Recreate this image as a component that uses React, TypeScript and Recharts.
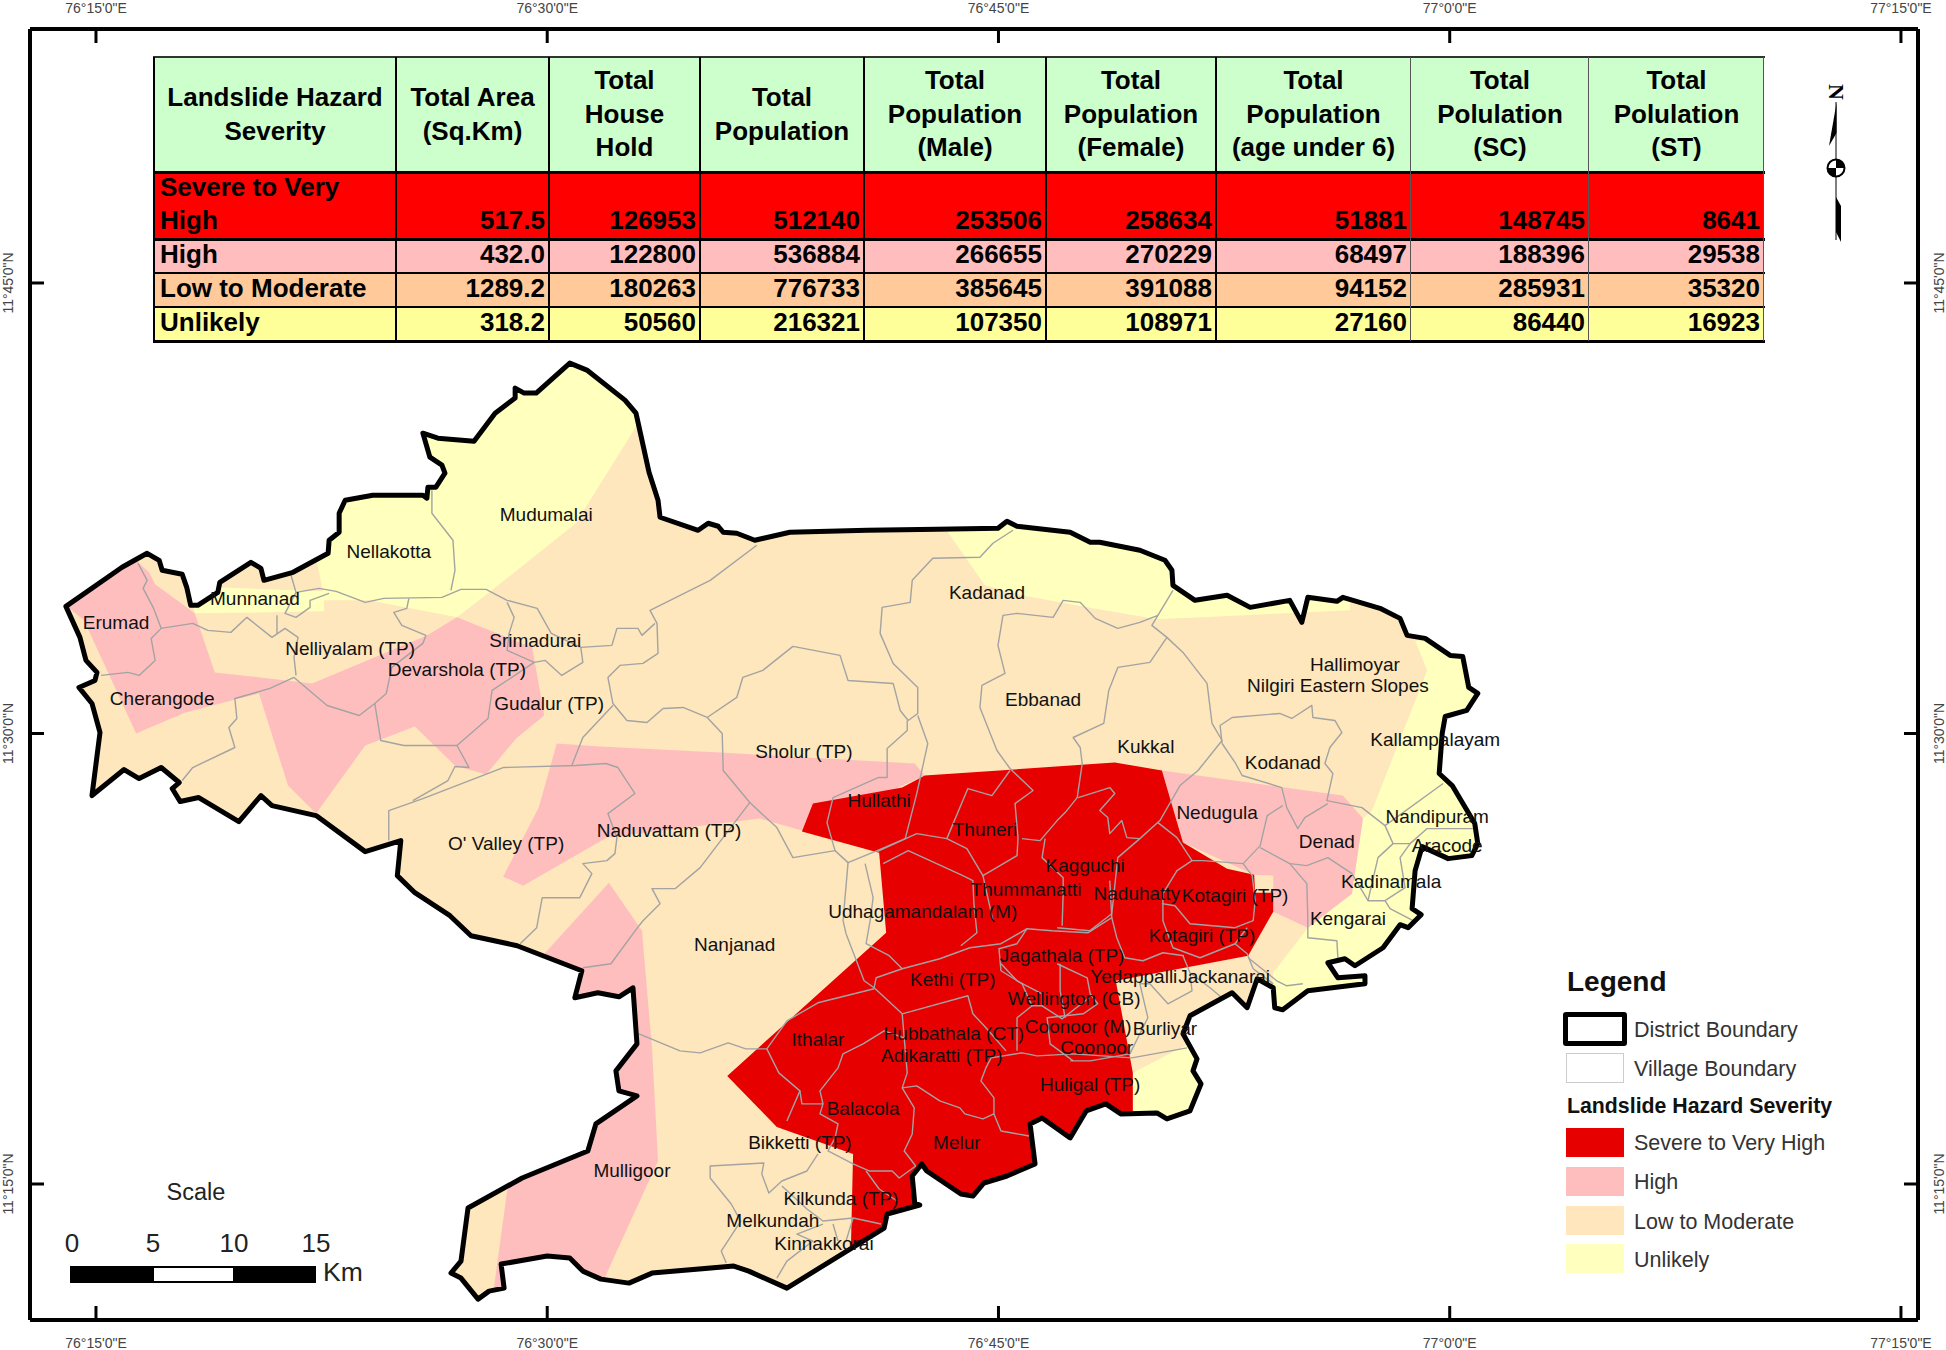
import { ScatterChart, Scatter, XAxis, YAxis } from 'recharts';

// all map coordinates are arc-seconds: x east of 76°E, y north of 11°N
type Pt = [number, number];

const lonTicks = [900, 1800, 2700, 3600, 4500];
const latTicks = [900, 1800, 2700];
const lonDomain = [768.4, 4534];
const latDomain = [628.3, 3207.4];

const districtOutline: Pt[] = [
  [840, 2054], [952, 2132], [1002, 2160], [1026, 2146], [1032, 2126], [1072, 2118], [1081, 2092], [1089, 2056], [1103, 2056], [1143, 2082], [1147, 2102], [1209, 2142], [1229, 2130], [1235, 2106], [1293, 2122], [1363, 2160], [1365, 2186], [1385, 2202], [1385, 2240], [1397, 2266], [1452, 2276], [1552, 2276], [1560, 2270], [1562, 2292], [1578, 2292], [1596, 2320], [1590, 2336], [1566, 2352], [1552, 2400], [1582, 2390], [1654, 2384], [1696, 2440], [1736, 2470], [1736, 2490], [1754, 2480], [1778, 2480], [1845, 2540], [1879, 2526], [1955, 2466], [1977, 2440], [1981, 2422], [2003, 2322], [2021, 2266], [2025, 2232], [2101, 2206], [2121, 2220], [2141, 2214], [2151, 2202], [2178, 2200], [2214, 2186], [2284, 2202], [2438, 2206], [2577, 2208], [2699, 2210], [2717, 2224], [2737, 2214], [2843, 2202], [2883, 2182], [2902, 2182], [2982, 2166], [3032, 2146], [3046, 2126], [3048, 2096], [3092, 2066], [3156, 2076], [3202, 2052], [3281, 2066], [3305, 2022], [3317, 2072], [3375, 2064], [3387, 2072], [3461, 2050], [3501, 2030], [3515, 1996], [3551, 1990], [3601, 1956], [3626, 1954], [3638, 1892], [3656, 1880], [3634, 1846], [3591, 1834], [3585, 1800], [3579, 1720], [3605, 1696], [3650, 1620], [3656, 1580], [3644, 1556], [3597, 1550], [3545, 1574], [3531, 1526], [3525, 1450], [3543, 1438], [3517, 1412], [3501, 1418], [3467, 1372], [3411, 1336], [3391, 1350], [3357, 1342], [3377, 1312], [3431, 1316], [3431, 1300], [3317, 1286], [3267, 1248], [3251, 1252], [3248, 1292], [3216, 1310], [3196, 1252], [3166, 1282], [3082, 1236], [3068, 1200], [3096, 1150], [3088, 1126], [3104, 1100], [3082, 1046], [3036, 1030], [3016, 1042], [2944, 1040], [2914, 1060], [2875, 1046], [2843, 992], [2787, 1032], [2763, 1020], [2773, 940], [2717, 916], [2671, 902], [2649, 876], [2625, 880], [2557, 926], [2547, 940], [2528, 916], [2533, 862], [2543, 858], [2478, 840], [2472, 812], [2278, 692], [2202, 726], [2172, 736], [2009, 722], [1963, 702], [1907, 710], [1871, 726], [1845, 752], [1800, 756], [1708, 740], [1714, 692], [1684, 686], [1662, 670], [1628, 712], [1608, 722], [1628, 746], [1642, 852], [1750, 912], [1881, 966], [1897, 1020], [1979, 1076], [1943, 1086], [1937, 1126], [1979, 1180], [1971, 1292], [1943, 1274], [1901, 1282], [1855, 1272], [1869, 1326], [1740, 1376], [1648, 1396], [1606, 1436], [1536, 1482], [1501, 1516], [1508, 1586], [1437, 1564], [1339, 1636], [1251, 1656], [1229, 1676], [1185, 1624], [1105, 1672], [1068, 1664], [1052, 1690], [1066, 1702], [1030, 1732], [986, 1710], [956, 1728], [892, 1676], [908, 1802], [892, 1860], [866, 1892], [898, 1906], [902, 1922], [880, 1946], [868, 1992],
];

const unlikelyZones: Pt[][] = [
  [[1327, 2306], [1341, 2140], [1353, 2084], [1147, 2092], [1087, 2092], [1097, 2040], [1355, 2044], [1355, 2066], [1444, 2066], [1620, 2032], [1682, 2080], [1857, 2220], [1985, 2426], [2105, 2666], [1327, 2666]],
  [[2593, 2226], [2599, 2202], [2673, 2096], [2757, 2074], [2877, 2052], [3016, 2028], [3401, 2046], [3401, 2086], [2902, 2266]],
  [[3531, 1986], [3555, 1926], [3445, 1646], [3427, 1630], [3411, 1526], [3405, 1480], [3317, 1412], [3248, 1322], [3242, 1246], [3700, 1246], [3700, 1986]],
  [[2968, 1122], [3092, 1186], [3182, 1186], [3182, 1006], [2968, 1006]],
];

const highZones: Pt[][] = [
  [[828, 2066], [968, 2176], [986, 2140], [1006, 2122], [1018, 2098], [1097, 2040], [1137, 1922], [1331, 1900], [1560, 1996], [1620, 2032], [1770, 1972], [1794, 1836], [1738, 1790], [1678, 1718], [1616, 1736], [1536, 1814], [1437, 1776], [1339, 1640], [1283, 1696], [1225, 1880], [1078, 1842], [980, 1800], [876, 2026]],
  [[1819, 1780], [1783, 1652], [1712, 1514], [1752, 1496], [1919, 1592], [2224, 1630], [2308, 1606], [2553, 1716], [2533, 1740], [2145, 1762], [1905, 1774]],
  [[1923, 1502], [1989, 1406], [2009, 1172], [2021, 946], [1907, 696], [1690, 666], [1720, 886], [1796, 1362]],
  [[3026, 1726], [3387, 1676], [3427, 1630], [3405, 1480], [3317, 1412], [3248, 1444], [3248, 1516], [3210, 1518], [3068, 1582]],
];

const severeZones: Pt[][] = [
  [[2330, 1660], [2508, 1692], [2553, 1716], [2902, 1740], [2932, 1742], [3026, 1726], [3068, 1582], [3156, 1530], [3210, 1518], [3212, 1482], [3248, 1482], [3248, 1444], [3198, 1356], [2934, 1306], [2968, 1122], [2968, 726], [2394, 726], [2406, 786], [2410, 960], [2258, 1014], [2159, 1116], [2476, 1402], [2462, 1562], [2308, 1604]],
];

const villageLines: Pt[][] = [
  [[984, 2140], [1002, 2106], [994, 2090], [1014, 2052], [1030, 2010], [1010, 1990], [1018, 1946], [986, 1916], [964, 1922], [910, 1916]],
  [[1030, 2010], [1093, 2020], [1123, 2006], [1169, 2002], [1201, 2032], [1251, 1992], [1277, 2010], [1303, 1992], [1295, 1952], [1299, 1916]],
  [[1289, 2116], [1299, 2082], [1345, 2090], [1379, 2084], [1437, 2062], [1474, 2070], [1590, 2072], [1628, 2088], [1678, 2088], [1720, 2066], [1780, 2050], [1808, 2000], [1867, 1972], [1871, 1942], [1829, 1916], [1796, 1946], [1774, 1942]],
  [[1299, 2082], [1277, 2040], [1299, 2032], [1327, 2052], [1327, 2066], [1365, 2080]],
  [[1261, 2036], [1261, 2000]],
  [[1524, 2070], [1520, 2050], [1494, 2042], [1510, 2016], [1558, 1996], [1552, 1980], [1490, 1932], [1479, 1880], [1456, 1860], [1425, 1836], [1361, 1856], [1295, 1912], [1247, 1890], [1177, 1870], [1181, 1830], [1165, 1812], [1177, 1772], [1093, 1732], [1072, 1706]],
  [[1456, 1860], [1468, 1786], [1514, 1776], [1620, 1776], [1644, 1732], [1616, 1734], [1602, 1706], [1532, 1666]],
  [[1620, 1776], [1682, 1830], [1690, 1886], [1774, 1942], [1720, 1966], [1724, 2000], [1734, 2032], [1720, 2062]],
  [[1570, 2286], [1570, 2240], [1612, 2186], [1616, 2126], [1608, 2086]],
  [[1484, 1586], [1484, 1646], [1552, 1670], [1712, 1732], [1857, 1736], [1917, 1740], [1941, 1732], [1975, 1680], [1921, 1640], [1939, 1592], [1935, 1560], [1919, 1546], [1871, 1540], [1889, 1520], [1865, 1472], [1790, 1472], [1779, 1412], [1746, 1380]],
  [[1871, 1332], [1927, 1340], [1983, 1416], [1991, 1426], [2025, 1460], [2009, 1490], [2055, 1490], [2105, 1532], [2204, 1662], [2151, 1726], [2149, 1800], [2119, 1832]],
  [[2119, 1832], [2178, 1872], [2190, 1912], [2230, 1926], [2290, 1974], [2384, 1956], [2400, 1906], [2490, 1900], [2504, 1846], [2520, 1826], [2539, 1840], [2539, 1892], [2490, 1940], [2464, 2000], [2468, 2052], [2524, 2062], [2528, 2106], [2569, 2150], [2663, 2152], [2689, 2180], [2729, 2206]],
  [[2119, 1832], [2071, 1852], [2031, 1850], [1999, 1822], [1959, 1826], [1931, 1860], [1921, 1912], [1945, 1936], [1991, 1940], [2021, 1960], [2019, 2020], [2005, 2046], [2125, 2106], [2218, 2176]],
  [[2015, 2020], [1989, 1996], [1981, 2010], [1939, 2010], [1929, 1976], [1867, 1972]],
  [[1931, 1856], [1871, 1792], [1849, 1736]],
  [[2518, 1826], [2518, 1806], [2478, 1770], [2478, 1712], [2460, 1712], [2370, 1672], [2358, 1622], [2374, 1566], [2290, 1552], [2258, 1612], [2204, 1662]],
  [[2539, 1836], [2559, 1780], [2537, 1680], [2514, 1590], [2458, 1566], [2400, 1542], [2374, 1566]],
  [[2458, 1564], [2537, 1600], [2597, 1590], [2637, 1570], [2669, 1516], [2737, 1556], [2739, 1592], [2733, 1660], [2769, 1686], [2723, 1730], [2697, 1766], [2663, 1852], [2667, 1896], [2713, 1920], [2699, 1976], [2709, 2036], [2737, 2040], [2809, 2032], [2829, 2066], [2863, 2062], [2893, 2030], [2938, 2010], [2982, 2022], [3018, 2036], [3006, 2016], [3036, 1992]],
  [[3018, 2036], [3048, 2086]],
  [[2597, 1590], [2639, 1690], [2687, 1676], [2723, 1726]],
  [[2400, 1542], [2390, 1426], [2396, 1400], [2432, 1306], [2452, 1292], [2508, 1240], [2639, 1276], [2649, 1240], [2675, 1212], [2715, 1166]],
  [[2434, 1540], [2450, 1472], [2444, 1426], [2436, 1380], [2482, 1356], [2508, 1330], [2456, 1312], [2452, 1292]],
  [[2470, 1540], [2520, 1566], [2629, 1516], [2649, 1506], [2651, 1460], [2657, 1402], [2625, 1376]],
  [[2508, 1330], [2583, 1350], [2643, 1372], [2705, 1380], [2757, 1410], [2807, 1406], [2879, 1402], [2926, 1432], [2922, 1506]],
  [[2669, 1516], [2689, 1426]],
  [[2747, 1590], [2783, 1586], [2817, 1626], [2833, 1642], [2857, 1672], [2867, 1740], [2863, 1772], [2849, 1792], [2910, 1820], [2920, 1886], [2938, 1932], [3002, 1942], [3036, 1992], [3068, 1962], [3116, 1900], [3126, 1820], [3146, 1786], [3098, 1726], [3062, 1696], [3022, 1626], [2982, 1590], [2938, 1552], [2926, 1440], [2882, 1406], [2817, 1412]],
  [[2793, 1590], [2787, 1552], [2829, 1512], [2829, 1480], [2827, 1416]],
  [[2859, 1672], [2922, 1692], [2932, 1680], [2902, 1646], [2918, 1632], [2922, 1600], [2946, 1626], [2956, 1592], [2982, 1590]],
  [[3018, 1622], [3056, 1592], [3086, 1546], [3056, 1526], [3028, 1480], [3028, 1426], [3048, 1372], [3102, 1352], [3172, 1380], [3196, 1360], [3208, 1330], [3248, 1300]],
  [[3026, 1460], [3052, 1456], [3082, 1420], [3172, 1412], [3208, 1426], [3212, 1466], [3206, 1516], [3188, 1540], [3108, 1546], [3086, 1546]],
  [[3172, 1380], [3196, 1412]],
  [[3146, 1780], [3142, 1816], [3166, 1832], [3261, 1840], [3285, 1830], [3325, 1856], [3327, 1832], [3371, 1826], [3385, 1802], [3361, 1772], [3351, 1740], [3367, 1720], [3355, 1666], [3425, 1652], [3471, 1616]],
  [[3146, 1780], [3172, 1742], [3186, 1716], [3265, 1692], [3275, 1652], [3297, 1610], [3311, 1632], [3357, 1660]],
  [[3267, 1656], [3236, 1636], [3222, 1576], [3188, 1540]],
  [[3222, 1572], [3281, 1540], [3315, 1500], [3317, 1432], [3317, 1392], [3375, 1386], [3377, 1350]],
  [[3281, 1540], [3315, 1536], [3357, 1552], [3405, 1520], [3437, 1466], [3471, 1466], [3481, 1450], [3527, 1426]],
  [[3471, 1616], [3487, 1580], [3457, 1552], [3437, 1466]],
  [[3487, 1580], [3521, 1580], [3555, 1610], [3646, 1610]],
  [[3471, 1616], [3587, 1700]],
  [[3521, 1580], [3501, 1552], [3511, 1492], [3471, 1466]],
  [[3198, 1352], [3255, 1306], [3275, 1296], [3307, 1300]],
  [[3068, 1356], [3082, 1322], [3086, 1286], [3038, 1260], [3002, 1300], [2982, 1300], [2998, 1232], [2962, 1160], [2883, 1146], [2843, 1146]],
  [[3082, 1322], [3122, 1292], [3148, 1270]],
  [[3076, 1172], [2966, 1152], [2849, 1160], [2777, 1156], [2747, 1162], [2685, 1152], [2675, 1132], [2665, 1106], [2691, 1072], [2691, 1040], [2705, 1006], [2761, 996]],
  [[2817, 1340], [2877, 1312], [2883, 1280], [2898, 1260], [2869, 1240], [2797, 1232], [2803, 1180], [2849, 1146]],
  [[2823, 1340], [2823, 1286], [2833, 1232]],
  [[2757, 1410], [2737, 1380], [2701, 1370], [2705, 1326], [2747, 1300], [2767, 1256], [2737, 1232], [2737, 1166]],
  [[2767, 1256], [2787, 1256], [2827, 1230], [2881, 1272]],
  [[2926, 1432], [2936, 1392], [2952, 1352], [2988, 1346], [3028, 1362], [3070, 1356]],
  [[2452, 1290], [2340, 1262], [2278, 1226], [2238, 1170], [2196, 1170], [2161, 1182], [2105, 1162], [2065, 1166], [1983, 1200]],
  [[2238, 1170], [2262, 1122], [2304, 1086], [2278, 1026]],
  [[2304, 1086], [2308, 1060], [2350, 1060], [2344, 1040], [2380, 1020], [2374, 992], [2360, 966], [2410, 940], [2442, 926], [2488, 926], [2502, 912], [2535, 936]],
  [[2350, 1060], [2344, 1086], [2380, 1132], [2390, 1160], [2430, 1180], [2472, 1206], [2512, 1192]],
  [[2508, 1240], [2512, 1192], [2518, 1122], [2508, 1092], [2532, 1052], [2528, 1000], [2512, 966], [2535, 936]],
  [[2508, 1092], [2537, 1096], [2583, 1066], [2623, 1052], [2633, 1040], [2669, 1030], [2691, 1040]],
  [[2340, 960], [2318, 926], [2268, 906], [2242, 882], [2228, 920], [2232, 942], [2125, 936], [2125, 912], [2167, 860], [2186, 826], [2147, 766], [2157, 742]],
  [[2268, 896], [2318, 850], [2350, 826], [2410, 832], [2466, 820]],
  [[2436, 926], [2462, 890], [2498, 866]],
  [[2350, 820], [2298, 800], [2330, 786], [2278, 746], [2258, 712]],
  [[2370, 820], [2380, 786]],
  [[2410, 832], [2396, 786]],
  [[2705, 1340], [2737, 1306], [2787, 1280], [2787, 1256]],
];

const placeNames = ['Mudumalai', 'Nellakotta', 'Munnanad', 'Erumad', 'Nelliyalam (TP)', 'Srimadurai', 'Devarshola (TP)', 'Gudalur (TP)', 'Cherangode', "O' Valley (TP)", 'Naduvattam (TP)', 'Sholur (TP)', 'Kadanad', 'Ebbanad', 'Hullathi', 'Thuneri', 'Thummanatti', 'Udhagamandalam (M)', 'Kagguchi', 'Naduhatty', 'Kotagiri (TP)', 'Kotagiri (TP)', 'Jagathala (TP)', 'Yedappalli', 'Jackanarai', 'Wellington (CB)', 'Kethi (TP)', 'Hubbathala (CT)', 'Adikaratti (TP)', 'Coonoor (M)', 'Coonoor', 'Burliyar', 'Ithalar', 'Huligal (TP)', 'Balacola', 'Melur', 'Bikketti (TP)', 'Kilkunda (TP)', 'Melkundah', 'Kinnakkorai', 'Mulligoor', 'Nanjanad', 'Hallimoyar', 'Nilgiri Eastern Slopes', 'Kallampalayam', 'Kukkal', 'Kodanad', 'Nedugula', 'Denad', 'Nandipuram', 'Aracode', 'Kadinamala', 'Kengarai'];
const placeLon = [1798, 1484, 1217, 940, 1407, 1776, 1620, 1804, 1032, 1718, 2043, 2312, 2677, 2789, 2462, 2673, 2755, 2549, 2873, 2976, 3172, 3106, 2827, 2970, 3150, 2851, 2609, 2611, 2587, 2859, 2896, 3032, 2340, 2883, 2430, 2617, 2304, 2386, 2250, 2352, 1969, 2174, 3411, 3377, 3571, 2994, 3267, 3136, 3355, 3575, 3595, 3483, 3397];
const placeLat = [2238, 2164, 2070, 2022, 1970, 1986, 1928, 1860, 1870, 1580, 1606, 1764, 2082, 1868, 1666, 1608, 1488, 1444, 1536, 1480, 1476, 1396, 1356, 1314, 1314, 1270, 1308, 1200, 1156, 1214, 1172, 1210, 1188, 1098, 1050, 982, 982, 872, 828, 782, 926, 1378, 1938, 1896, 1788, 1774, 1742, 1642, 1584, 1634, 1576, 1504, 1430];

const tableHeaders = [
  ['Landslide Hazard', 'Severity'],
  ['Total Area', '(Sq.Km)'],
  ['Total', 'House', 'Hold'],
  ['Total', 'Population'],
  ['Total', 'Population', '(Male)'],
  ['Total', 'Population', '(Female)'],
  ['Total', 'Population', '(age under 6)'],
  ['Total', 'Polulation', '(SC)'],
  ['Total', 'Polulation', '(ST)'],
];
const severityRows = [['Severe to Very', 'High'], ['High'], ['Low to Moderate'], ['Unlikely']];
const tableValues = [
  ['517.5', '126953', '512140', '253506', '258634', '51881', '148745', '8641'],
  ['432.0', '122800', '536884', '266655', '270229', '68497', '188396', '29538'],
  ['1289.2', '180263', '776733', '385645', '391088', '94152', '285931', '35320'],
  ['318.2', '50560', '216321', '107350', '108971', '27160', '86440', '16923'],
];
const rowFills = ['#ff0000', '#ffbdbd', '#ffc999', '#ffff99'];
const columnEdges = [154, 396, 549, 700, 864, 1046, 1216, 1411, 1589, 1764];
const rowEdges = [57, 172, 239, 273, 307, 341];

const legendSwatches = ['#e60000', '#ffbebe', '#ffe6bc', '#ffffbe'];
const legendNames = ['Severe to Very High', 'High', 'Low to Moderate', 'Unlikely'];
const scaleLabels = ['0', '5', '10', '15'];

const FONT = '"Liberation Sans", Arial, sans-serif';
const MAP_FILL = '#fee7bc';

const toRows = (pts: Pt[]) => pts.map(([x, y]) => ({ x, y }));
const pathOf = (pts: { x: number; y: number }[], close: boolean) =>
  pts.map((p, i) => `${i ? 'L' : 'M'}${p.x} ${p.y}`).join(' ') + (close ? ' Z' : '');
const noSymbol = () => <g />;

const zoneLine = (fill: string) => (props: any) => (
  <path d={pathOf(props.points, true)} fill={fill} stroke="none" clipPath="url(#district-clip)" />
);
const villageLine = (props: any) => (
  <path d={pathOf(props.points, false)} fill="none" stroke="#a3a3a3" strokeWidth={1.4} strokeLinejoin="round" />
);
const districtFill = (props: any) => {
  const d = pathOf(props.points, true);
  return (
    <g>
      <defs>
        <clipPath id="district-clip">
          <path d={d} />
        </clipPath>
      </defs>
      <path d={d} fill={MAP_FILL} stroke="none" />
    </g>
  );
};
const districtEdge = (props: any) => (
  <path d={pathOf(props.points, true)} fill="none" stroke="#000" strokeWidth={5} strokeLinejoin="round" />
);

const lonLabel = (sec: number) => {
  const deg = 76 + Math.floor(sec / 3600);
  return `${deg}°${(sec % 3600) / 60}'0"E`;
};
const latLabel = (sec: number) => `11°${sec / 60}'0"N`;

const tickText = { fontFamily: FONT, fontSize: 14, fill: '#444' };

const LonTick = ({ x, y, payload, side }: any) => {
  const dir = side === 'top' ? 1 : -1;
  const textY = side === 'top' ? y - 21 : y + 23;
  return (
    <g>
      <line x1={x} x2={x} y1={y} y2={y + dir * 14} stroke="#000" strokeWidth={3} />
      <text x={x} y={textY} textAnchor="middle" dominantBaseline="central" {...tickText}>
        {lonLabel(payload.value)}
      </text>
    </g>
  );
};
const LatTick = ({ x, y, payload, side }: any) => {
  const dir = side === 'left' ? 1 : -1;
  const textX = side === 'left' ? x - 22 : x + 21;
  return (
    <g>
      <line x1={x} x2={x + dir * 14} y1={y} y2={y} stroke="#000" strokeWidth={3} />
      <text
        x={textX}
        y={y}
        textAnchor="middle"
        dominantBaseline="central"
        transform={`rotate(-90 ${textX} ${y})`}
        {...tickText}
      >
        {latLabel(payload.value)}
      </text>
    </g>
  );
};

const placeRows = placeNames.map((name, i) => ({ x: placeLon[i], y: placeLat[i], name }));
const PlaceLabel = ({ cx, cy, name, payload }: any) => (
  <text x={cx} y={cy} textAnchor="middle" dominantBaseline="central" fontFamily={FONT} fontSize={19} fill="#111">
    {name ?? payload?.name}
  </text>
);

const frameAxis = { axisLine: { stroke: '#000', strokeWidth: 4 }, tickLine: false, tickSize: 0, tickMargin: 0, interval: 0 as const };

function HazardTable() {
  const cell = (l: number, t: number, w: number, h: number): React.CSSProperties => ({
    position: 'absolute', left: l, top: t, width: w, height: h, boxSizing: 'border-box',
  });
  const bold: React.CSSProperties = { fontFamily: FONT, fontWeight: 700, fontSize: 26, lineHeight: '33.5px', color: '#000' };
  return (
    <div style={{ position: 'absolute', left: 0, top: 0 }}>
      {tableHeaders.map((lines, c) => (
        <div
          key={c}
          style={{
            ...cell(columnEdges[c], rowEdges[0], columnEdges[c + 1] - columnEdges[c], rowEdges[1] - rowEdges[0]),
            ...bold,
            background: '#ccffcc',
            display: 'flex',
            flexDirection: 'column',
            alignItems: 'center',
            justifyContent: 'center',
            whiteSpace: 'nowrap',
          }}
        >
          {lines.map((t, i) => (
            <div key={i}>{t}</div>
          ))}
        </div>
      ))}
      {tableValues.map((vals, r) => {
        const top = rowEdges[r + 1];
        const h = rowEdges[r + 2] - top;
        return (
          <div key={r}>
            <div
              style={{
                ...cell(columnEdges[0], top, columnEdges[1] - columnEdges[0], h),
                ...bold,
                background: rowFills[r],
                padding: '0 0 3px 6px',
                display: 'flex',
                flexDirection: 'column',
                justifyContent: 'center',
              }}
            >
              {severityRows[r].map((t, i) => (
                <div key={i}>{t}</div>
              ))}
            </div>
            {vals.map((v, c) => (
              <div
                key={c}
                style={{
                  ...cell(columnEdges[c + 1], top, columnEdges[c + 2] - columnEdges[c + 1], h),
                  ...bold,
                  background: rowFills[r],
                  textAlign: 'right',
                  padding: '0 4px 2px 0',
                  display: 'flex',
                  alignItems: 'flex-end',
                  justifyContent: 'flex-end',
                }}
              >
                {v}
              </div>
            ))}
          </div>
        );
      })}
      {rowEdges.map((y, i) => (
        <div key={i} style={{ position: 'absolute', left: columnEdges[0] - 1, top: y - 1.5, width: columnEdges[9] - columnEdges[0] + 2, height: i === 0 ? 2 : i < 3 || i === 5 ? 3.5 : 2.5, background: i === 0 ? '#333' : '#000' }} />
      ))}
      {columnEdges.map((x, i) => (
        <div key={i} style={{ position: 'absolute', left: x - 1, top: rowEdges[0], width: i < 7 ? 2 : 1, height: rowEdges[5] - rowEdges[0], background: i < 7 ? '#000' : '#555' }} />
      ))}
    </div>
  );
}

function MapLegend() {
  const text = (top: number, label: string, weight = 400, size = 21.5, left = 1634, color = '#333') => (
    <div style={{ position: 'absolute', left, top: top - 20, height: 40, lineHeight: '40px', fontFamily: FONT, fontSize: size, fontWeight: weight, color, whiteSpace: 'nowrap' }}>
      {label}
    </div>
  );
  const swatchTops = [1128, 1167, 1206, 1244];
  const textMids = [1143, 1182, 1222, 1260];
  return (
    <div style={{ position: 'absolute', left: 0, top: 0 }}>
      {text(982, 'Legend', 700, 28, 1567, '#111')}
      <div style={{ position: 'absolute', left: 1563, top: 1012, width: 64, height: 34, boxSizing: 'border-box', border: '5px solid #000', borderRadius: 3 }} />
      {text(1030, 'District Boundary')}
      <div style={{ position: 'absolute', left: 1566, top: 1053, width: 58, height: 30, boxSizing: 'border-box', border: '1.5px solid #ccc' }} />
      {text(1069, 'Village Boundary')}
      {text(1106, 'Landslide Hazard Severity', 700, 21.3, 1567, '#111')}
      {legendNames.map((name, i) => (
        <div key={name}>
          <div style={{ position: 'absolute', left: 1566, top: swatchTops[i], width: 58, height: 29, background: legendSwatches[i] }} />
          {text(textMids[i], name)}
        </div>
      ))}
    </div>
  );
}

function ScaleBar() {
  const centers = [72, 153, 234, 316];
  return (
    <div style={{ position: 'absolute', left: 0, top: 0, fontFamily: FONT, color: '#222' }}>
      <div style={{ position: 'absolute', left: 136, width: 120, top: 1172, lineHeight: '40px', fontSize: 23.5, textAlign: 'center' }}>Scale</div>
      {scaleLabels.map((t, i) => (
        <div key={t} style={{ position: 'absolute', left: centers[i] - 30, width: 60, top: 1223, lineHeight: '40px', fontSize: 26, textAlign: 'center' }}>
          {t}
        </div>
      ))}
      <div style={{ position: 'absolute', left: 70, top: 1266, width: 246, height: 17, background: '#000' }} />
      <div style={{ position: 'absolute', left: 154, top: 1268, width: 79, height: 13, background: '#fff' }} />
      <div style={{ position: 'absolute', left: 323, top: 1252, lineHeight: '40px', fontSize: 26.5 }}>Km</div>
    </div>
  );
}

function NorthArrow() {
  return (
    <svg width={1946} height={1350} style={{ position: 'absolute', left: 0, top: 0, pointerEvents: 'none' }}>
      <text x={1836} y={92} textAnchor="middle" dominantBaseline="central" fontFamily='"Liberation Serif", serif' fontWeight={700} fontSize={22} transform="rotate(90 1836 92)">N</text>
      <line x1={1836} x2={1836} y1={102} y2={240} stroke="#000" strokeWidth={1} />
      <path d="M1836.5 103 L1829 146 L1836.5 133 Z" fill="#000" />
      <circle cx={1836} cy={168} r={8.5} fill="#fff" stroke="#000" strokeWidth={2} />
      <path d="M1836 159.5 A8.5 8.5 0 0 1 1844.5 168 L1836 168 Z M1836 168 L1827.5 168 A8.5 8.5 0 0 0 1836 176.5 Z" fill="#000" />
      <path d="M1836 197 L1841 206 L1841 242 L1836 232 Z" fill="#000" />
    </svg>
  );
}

export default function App() {
  return (
    <div style={{ position: 'absolute', left: 0, top: 0, width: 1946, height: 1350, background: '#fff', overflow: 'hidden' }}>
      <ScatterChart width={1946} height={1350} margin={{ top: 0, right: 0, bottom: 0, left: 0 }}>
        <XAxis dataKey="x" type="number" domain={lonDomain} ticks={lonTicks} height={30} {...frameAxis} tick={<LonTick side="bottom" />} />
        <XAxis xAxisId="top" orientation="top" dataKey="x" type="number" domain={lonDomain} ticks={lonTicks} height={29} {...frameAxis} tick={<LonTick side="top" />} />
        <YAxis dataKey="y" type="number" domain={latDomain} ticks={latTicks} width={30} {...frameAxis} tick={<LatTick side="left" />} />
        <YAxis yAxisId="right" orientation="right" dataKey="y" type="number" domain={latDomain} ticks={latTicks} width={28} {...frameAxis} tick={<LatTick side="right" />} />

        {/* keeps the top and right axes bound to a series so they draw their ticks */}
        <Scatter xAxisId="top" yAxisId="right" data={toRows(districtOutline)} shape={noSymbol} isAnimationActive={false} />

        <Scatter data={toRows(districtOutline)} line={districtFill} shape={noSymbol} isAnimationActive={false} />
        {unlikelyZones.map((z, i) => (
          <Scatter key={`u${i}`} data={toRows(z)} line={zoneLine('#ffffbe')} shape={noSymbol} isAnimationActive={false} />
        ))}
        {highZones.map((z, i) => (
          <Scatter key={`h${i}`} data={toRows(z)} line={zoneLine('#ffbebe')} shape={noSymbol} isAnimationActive={false} />
        ))}
        {severeZones.map((z, i) => (
          <Scatter key={`s${i}`} data={toRows(z)} line={zoneLine('#e60000')} shape={noSymbol} isAnimationActive={false} />
        ))}
        {villageLines.map((l, i) => (
          <Scatter key={`v${i}`} data={toRows(l)} line={villageLine} shape={noSymbol} isAnimationActive={false} />
        ))}
        <Scatter data={toRows(districtOutline)} line={districtEdge} shape={noSymbol} isAnimationActive={false} />
        <Scatter data={placeRows} shape={<PlaceLabel />} isAnimationActive={false} />
      </ScatterChart>
      <HazardTable />
      <MapLegend />
      <ScaleBar />
      <NorthArrow />
    </div>
  );
}
